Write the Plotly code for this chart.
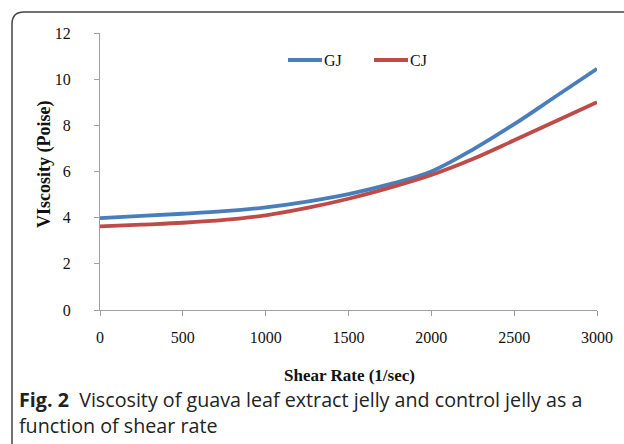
import plotly.graph_objects as go

shear_rate = [0, 250, 500, 750, 1000, 1250, 1500, 1750, 2000, 2250, 2500, 2750, 3000]
gj_viscosity = [3.98, 4.08, 4.17, 4.28, 4.45, 4.70, 5.02, 5.45, 6.00, 6.95, 8.05, 9.25, 10.45]
cj_viscosity = [3.62, 3.70, 3.78, 3.90, 4.10, 4.42, 4.82, 5.30, 5.85, 6.54, 7.35, 8.18, 9.00]
series_names = ["GJ", "CJ"]
series_colors = ["#4A7EBB", "#BE4B48"]
x_ticks = [0, 500, 1000, 1500, 2000, 2500, 3000]
y_ticks = [0, 2, 4, 6, 8, 10, 12]

serif = "Liberation Serif, Times New Roman, serif"
sans = "Open Sans, Noto Sans, sans-serif"

fig = go.Figure()
for name, ys, col in zip(series_names, [gj_viscosity, cj_viscosity], series_colors):
    fig.add_trace(go.Scatter(x=shear_rate, y=ys, mode="lines", name=name, showlegend=False,
                             line=dict(color=col, width=3.8, shape="spline", smoothing=1.0)))

W, H = 624, 444
L, R, T, B = 100, 27, 33, 134
pw, ph = W - L - R, H - T - B

def px(xp):
    return (xp - L) / pw

def py(yp):
    return (H - B - yp) / ph

# rounded frame (top-left corner visible)
r = 12
path = (f"M {px(12)},{py(470)} L {px(12)},{py(12 + r)} "
        f"Q {px(12)},{py(12)} {px(12 + r)},{py(12)} L {px(650)},{py(12)}")
fig.add_shape(type="path", path=path, xref="paper", yref="paper",
              line=dict(color="#444444", width=1.5))

# legend drawn manually (line sample + label)
legend_x = [288, 374]
for name, col, lx in zip(series_names, series_colors, legend_x):
    fig.add_shape(type="line", xref="paper", yref="paper", x0=px(lx), x1=px(lx + 34),
                  y0=py(60), y1=py(60), line=dict(color=col, width=3.8))
    fig.add_annotation(text=name, xref="paper", yref="paper", x=px(lx + 34), y=py(60),
                       xanchor="left", yanchor="middle", showarrow=False,
                       font=dict(family=serif, size=16, color="#111"))

fig.update_layout(
    width=W, height=H,
    margin=dict(l=L, r=R, t=T, b=B),
    paper_bgcolor="white", plot_bgcolor="white",
    showlegend=False,
    xaxis=dict(range=[0, 3000], tickvals=x_ticks, showline=True, linecolor="#a0a0a0",
               linewidth=1, ticks="outside", ticklen=5, tickcolor="#a0a0a0",
               showgrid=False, zeroline=False, ticklabelstandoff=8,
               tickfont=dict(family=serif, size=16, color="#111")),
    yaxis=dict(range=[0, 12], tickvals=y_ticks, showline=True, linecolor="#a0a0a0",
               linewidth=1, ticks="outside", ticklen=5, tickcolor="#a0a0a0",
               showgrid=False, zeroline=False, ticklabelstandoff=20,
               tickfont=dict(family=serif, size=16, color="#111")),
)

fig.add_annotation(text="<b>VIscosity (Poise)</b>", xref="paper", yref="paper",
                   x=px(44), y=py(165), xanchor="center", yanchor="middle", textangle=-90,
                   showarrow=False, font=dict(family=serif, size=18, color="#111"))
fig.add_annotation(text="<b>Shear Rate (1/sec)</b>", xref="paper", yref="paper",
                   x=px(349), y=py(375), xanchor="center", yanchor="middle",
                   showarrow=False, font=dict(family=serif, size=17, color="#111"))

fig.add_annotation(text="<b>Fig. 2</b>  Viscosity of guava leaf extract jelly and control jelly as a",
                   xref="paper", yref="paper", x=px(17), y=py(399), xanchor="left", yanchor="middle",
                   showarrow=False, font=dict(family=sans, size=19.7, color="#222"))
fig.add_annotation(text="function of shear rate",
                   xref="paper", yref="paper", x=px(17), y=py(425), xanchor="left", yanchor="middle",
                   showarrow=False, font=dict(family=sans, size=19.7, color="#222"))

fig.write_html("out.html", config={"displayModeBar": False},
               post_script="document.body.style.margin='0';")
